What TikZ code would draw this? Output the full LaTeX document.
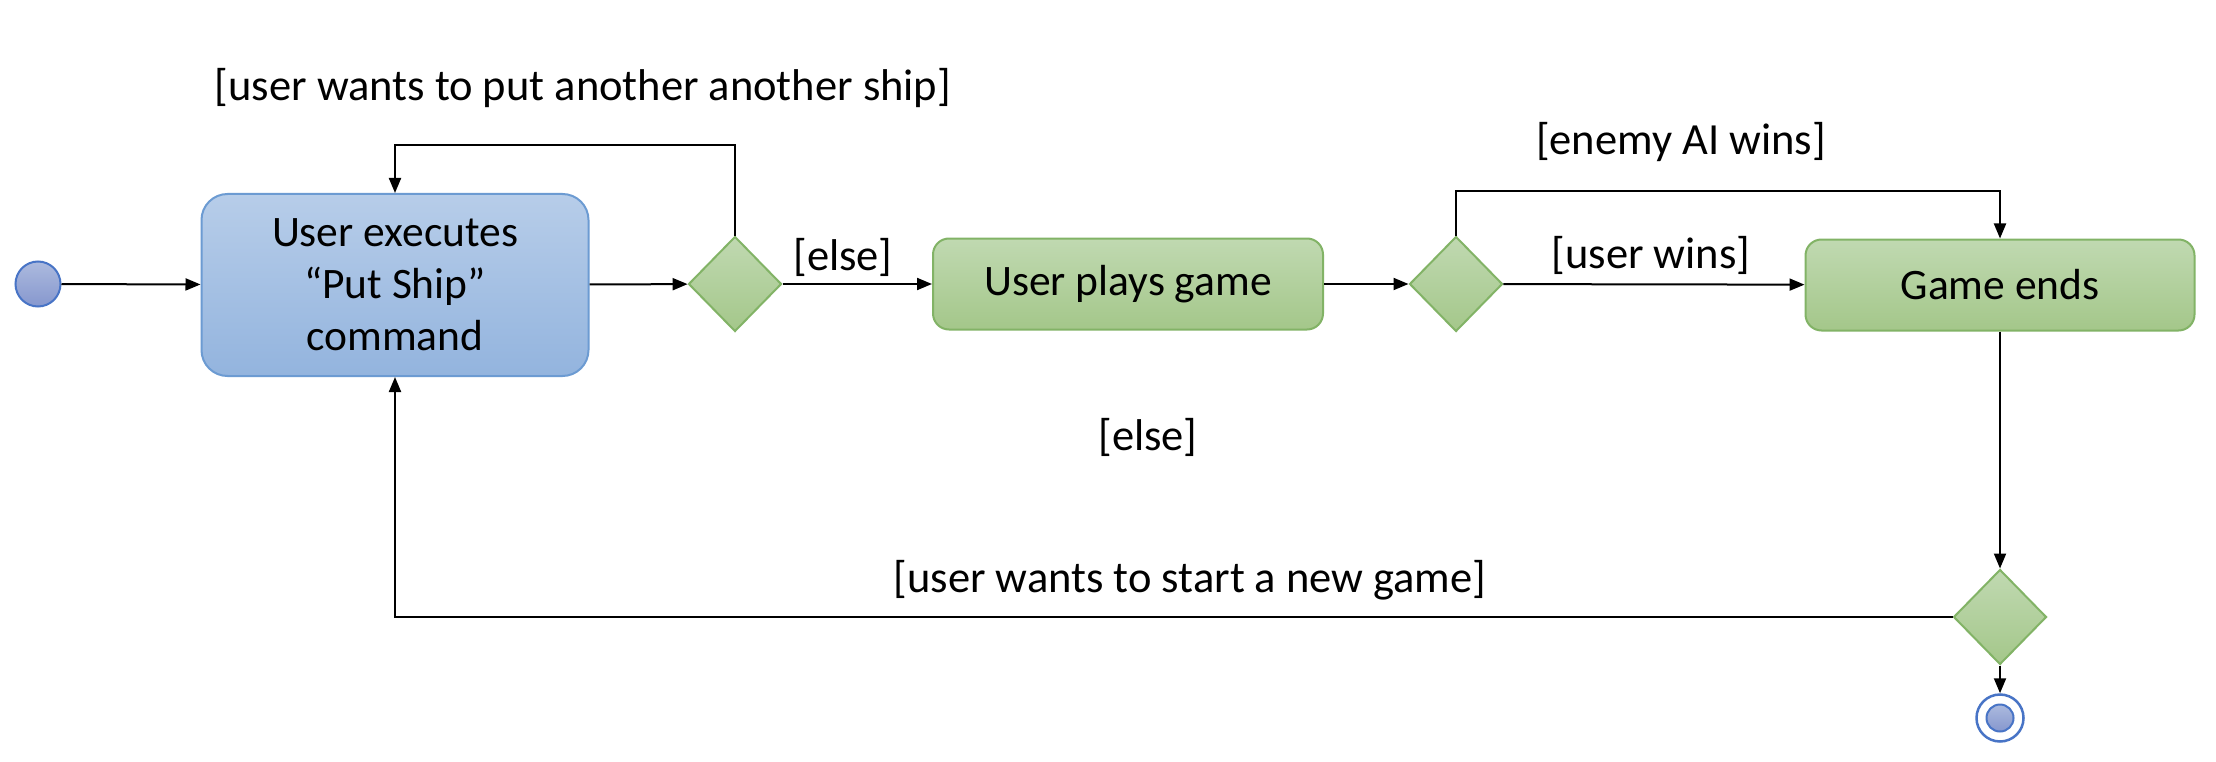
\documentclass[tikz,border=0pt]{standalone}
\usepackage{fontspec}
\setmainfont{Carlito}
\usetikzlibrary{shapes.geometric,arrows.meta}
\definecolor{bluetop}{RGB}{183,205,233}
\definecolor{bluebot}{RGB}{147,180,222}
\definecolor{blueline}{RGB}{108,155,210}
\definecolor{greentop}{RGB}{192,217,177}
\definecolor{greenbot}{RGB}{164,199,138}
\definecolor{greenline}{RGB}{130,179,102}
\definecolor{dottop}{RGB}{172,186,222}
\definecolor{dotbot}{RGB}{134,151,206}
\definecolor{dotline}{RGB}{72,116,198}
\tikzset{
  txt/.style={font=\fontsize{43.5}{52}\selectfont, align=center},
  bluebox/.style={txt, rectangle, rounded corners=26pt, draw=blueline, line width=2pt,
    top color=bluetop, bottom color=bluebot, minimum width=387pt, minimum height=182pt, inner sep=0pt},
  greenbox/.style={txt, rectangle, rounded corners=16pt, draw=greenline, line width=2pt,
    top color=greentop, bottom color=greenbot, minimum width=390pt, minimum height=91pt, inner sep=0pt},
  decision/.style={diamond, draw=greenline, line width=2pt, top color=greentop, bottom color=greenbot,
    minimum width=93pt, minimum height=95pt, inner sep=0pt},
  startdot/.style={circle, draw=dotline, line width=2pt, top color=dottop, bottom color=dotbot,
    minimum size=45pt, inner sep=0pt},
  endring/.style={circle, draw=dotline, line width=2.5pt, fill=white, minimum size=47pt, inner sep=0pt},
  enddot/.style={circle, draw=dotline, line width=2pt, top color=dottop, bottom color=dotbot,
    minimum size=27pt, inner sep=0pt},
  lbl/.style={font=\fontsize{44.5}{52}\selectfont, inner sep=0pt},
  arr/.style={line width=2pt, -{Triangle[length=15pt,width=12pt]}},
}
\begin{document}
\begin{tikzpicture}[x=1pt,y=-1pt]
\useasboundingbox[fill=white] (0,0) rectangle (2216,762);

\node[startdot] (s) at (38,284) {};
\node[bluebox] (put) at (395,285) {User executes\\“Put Ship”\\command};
\node[decision] (d1) at (735,284) {};
\node[greenbox] (play) at (1128,284) {User plays game};
\node[decision] (d2) at (1456,284) {};
\node[greenbox, minimum width=389pt] (ge) at (2000,285) {Game ends};
\node[decision] (d3) at (2000,617) {};
\node[endring] (e) at (2000,718) {};
\node[enddot] (ei) at (e) {};

\draw[arr] (s) -- (put);
\draw[arr] (put) -- (d1);
\draw[arr] (d1.north) -- ++(0,-90) -| (put.north);
\draw[arr] (d1) -- (play);
\draw[arr] (play) -- (d2);
\draw[arr] (d2) -- (ge);
\draw[arr] (d2.north) -- ++(0,-44) -| (ge.north);
\draw[arr] (ge.south) -- (d3.north);
\draw[arr] (d3.south) -- (e.north);
\draw[arr] (d3.west) -| (put.south);

\node[lbl] (l1) at (583,88) {[user wants to put another another ship]};
\node[lbl] (l2) at (843,257) {[else]};
\node[lbl] (l3) at (1681,142) {[enemy AI wins]};
\node[lbl] (l4) at (1651,255) {[user wins]};
\node[lbl] (l5) at (1148,437) {[else]};
\node[lbl] (l6) at (1190,580) {[user wants to start a new game]};
\end{tikzpicture}
\end{document}
